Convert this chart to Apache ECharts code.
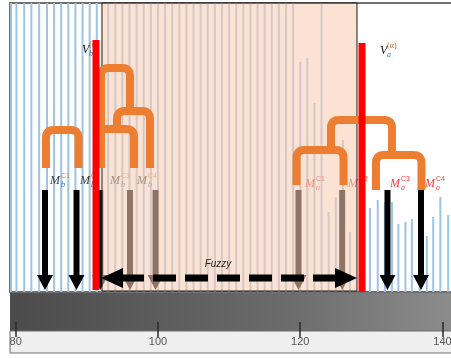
<!DOCTYPE html>
<html>
<head>
<meta charset="utf-8">
<script src="https://cdn.jsdelivr.net/npm/echarts@6/dist/echarts.min.js"></script>
<style>
html, body { margin: 0; padding: 0; background: #fff; }
#chart { width: 451px; height: 358px; }
</style>
</head>
<body>
<div id="chart"></div>
<script>
// m/z axis ticks
var tickValues = [80, 100, 120, 140];

// spectrum lines: position and height
var lineX = [79.35, 80.1, 81.2, 82.2, 83.3, 84.4, 85.4, 86.4, 87.4, 88.4, 89.4, 90.4, 91.4,
	93, 94, 95, 96, 97, 98, 99, 100, 101, 102, 103, 104, 105, 106, 107, 108, 109, 110,
	111, 112, 113, 114, 115, 116, 117, 118, 119, 120, 121, 122, 123, 124, 125, 126, 127,
	129.8, 130.9, 131.9, 132.9, 133.8, 134.8, 135.7, 136.8, 137.8, 138.7, 139.7, 140.8];
var lineH = [289, 289, 289, 289, 289, 289, 289, 289, 289, 289, 289, 289, 289,
	289, 289, 289, 289, 289, 289, 289, 289, 289, 289, 289, 289, 289, 289, 289, 289, 289, 289,
	289, 289, 289, 289, 289, 289, 289, 289, 289, 230, 234, 189, 289, 80, 95, 152, 60,
	84, 92, 90, 90, 68, 70, 73, 60, 56, 75, 95, 77];

// downward arrows (fragments)
var arrowX = [84.12, 88.55, 91.9, 96.07, 99.66, 119.76, 125.9, 132.27, 136.98];
var arrowTop = [102, 102, 102, 102, 102, 102, 102, 102, 102];
var arrowTip = [2, 2, 2, 2, 2, 2, 2, 2, 2];

// fragment labels
var labelX = [84.82, 89.04, 93.26, 97.05, 120.67, 126.72, 132.62, 137.54];
var labelY = [111, 111, 111, 111, 108, 108, 108, 108];
var labelSup = ['C1', 'C2', 'C3', 'C4', 'C1', 'C2', 'C3', 'C4'];
var labelSub = ['b', 'b', 'b', 'b', 'a', 'a', 'a', 'a'];

// precursor windows
var redX = [91.29, 128.69];
var redTop = [252, 249];
var redBottom = [2, 0];
var vX = [89.32, 131.22];
var vY = [242, 241];
var vSub = ['b', 'a'];

// fuzzy window
var fuzzyFrom = 92.13;
var fuzzyTo = 127.98;
var arrowFrom = 91.99;
var arrowY = 14;
var fuzzyTextX = 108.44;
var fuzzyTextY = 28;

// dendrogram links
var treeLinks = [
	[[84.26, 124], [84.26, 162], [88.83, 162], [88.83, 124]],
	[[91.99, 124], [91.99, 224], [96.07, 224], [96.07, 181]],
	[[94.24, 165], [94.24, 181], [98.88, 181], [98.88, 124]],
	[[91.99, 163], [96.63, 163], [96.63, 124]],
	[[119.48, 107], [119.48, 142], [126.09, 142], [126.09, 107]],
	[[124.33, 142], [124.33, 172], [132.9, 172], [132.9, 137]],
	[[130.65, 102], [130.65, 137], [137.05, 137], [137.05, 102]]
];

var xMin = 79.2, xMax = 141.48;

// rounded corners for the dendrogram elbows (pixel space)
function roundCorners(pts, r) {
	var out = [ pts[0] ];
	for (var i = 1; i < pts.length - 1; i++) {
		var p = pts[i], a = pts[i - 1], b = pts[i + 1];
		var d1 = Math.hypot(p[0] - a[0], p[1] - a[1]);
		var d2 = Math.hypot(b[0] - p[0], b[1] - p[1]);
		var rr = Math.min(r, d1 / 2, d2 / 2);
		var s = [ p[0] - (p[0] - a[0]) / d1 * rr, p[1] - (p[1] - a[1]) / d1 * rr ];
		var e = [ p[0] + (b[0] - p[0]) / d2 * rr, p[1] + (b[1] - p[1]) / d2 * rr ];
		for (var k = 0; k <= 8; k++) {
			var t = k / 8, u = 1 - t;
			out.push([ u * u * s[0] + 2 * u * t * p[0] + t * t * e[0],
				u * u * s[1] + 2 * u * t * p[1] + t * t * e[1] ]);
		}
	}
	out.push(pts[pts.length - 1]);
	return out;
}

var myChart = echarts.init(document.getElementById('chart'));

var option = {
	animation : false,
	backgroundColor : '#fff',
	grid : [ {
		left : 10, right : -2, top : 3, height : 289,
		show : true, backgroundColor : '#fff', borderColor : '#6f6f6f', borderWidth : 2,
		outerBoundsMode : 'none'
	}, {
		left : 10, right : -2, top : 293, height : 38,
		show : true, borderWidth : 0, outerBoundsMode : 'none',
		backgroundColor : new echarts.graphic.LinearGradient(0, 0, 1, 0, [
			{ offset : 0, color : '#4b4b4b' },
			{ offset : 0.6, color : '#6a6a6a' },
			{ offset : 1, color : '#8c8c8c' } ])
	}, {
		left : 10, right : -2, top : 331, height : 22,
		show : true, backgroundColor : '#efefef', borderColor : '#6f6f6f', borderWidth : 1,
		outerBoundsMode : 'none'
	} ],
	xAxis : [ {
		gridIndex : 0, type : 'value', min : xMin, max : xMax, show : false
	}, {
		gridIndex : 1, type : 'value', min : xMin, max : xMax, position : 'top',
		axisLine : { show : false },
		axisTick : { show : true, inside : true, length : 6, customValues : tickValues,
			lineStyle : { color : '#2a2a2a', width : 1.5 } },
		axisLabel : { show : false },
		splitLine : { show : false }
	}, {
		gridIndex : 1, type : 'value', min : xMin, max : xMax, position : 'bottom',
		axisLine : { show : false },
		axisTick : { show : true, inside : true, length : 9, customValues : tickValues,
			lineStyle : { color : '#2a2a2a', width : 1.5 } },
		axisLabel : { show : false },
		splitLine : { show : false }
	}, {
		gridIndex : 2, type : 'value', min : xMin, max : xMax, position : 'top',
		axisLine : { show : false },
		axisTick : { show : false },
		axisLabel : { show : true, inside : true, margin : 5, customValues : tickValues,
			color : '#555', fontSize : 11, fontFamily : 'Liberation Sans' },
		splitLine : { show : false }
	} ],
	yAxis : [ {
		gridIndex : 0, type : 'value', min : 0, max : 289, show : false
	}, {
		gridIndex : 1, type : 'value', min : 0, max : 1, show : false
	}, {
		gridIndex : 2, type : 'value', min : 0, max : 1, show : false
	} ],
	series : [ {
		// spectrum lines
		type : 'custom', z : 2,
		data : lineX.map(function(x, i) { return [ x, lineH[i] ]; }),
		renderItem : function(params, api) {
			var p0 = api.coord([ api.value(0), 0 ]);
			var p1 = api.coord([ api.value(0), api.value(1) ]);
			return {
				type : 'line',
				shape : { x1 : p0[0], y1 : p0[1], x2 : p1[0], y2 : p1[1] },
				style : { stroke : '#9dc3e6', lineWidth : 2 }
			};
		}
	}, {
		// fragment arrows
		type : 'custom', z : 3,
		data : arrowX.map(function(x, i) { return [ x, arrowTop[i], arrowTip[i] ]; }),
		renderItem : function(params, api) {
			var top = api.coord([ api.value(0), api.value(1) ]);
			var tip = api.coord([ api.value(0), api.value(2) ]);
			var hl = 15, hw = 8, sw = 3;
			return {
				type : 'group',
				children : [ {
					type : 'rect',
					shape : { x : top[0] - sw, y : top[1], width : sw * 2, height : tip[1] - hl - top[1] + 1 },
					style : { fill : '#000' }
				}, {
					type : 'polygon',
					shape : { points : [ [ tip[0] - hw, tip[1] - hl ], [ tip[0] + hw, tip[1] - hl ], [ tip[0], tip[1] ] ] },
					style : { fill : '#000' }
				} ]
			};
		}
	}, {
		// fragment labels
		type : 'custom', z : 4,
		data : labelX.map(function(x, i) { return [ x, labelY[i] ]; }),
		renderItem : function(params, api) {
			var i = params.dataIndex;
			var p = api.coord([ api.value(0), api.value(1) ]);
			var red = labelSub[i] === 'a';
			return {
				type : 'group',
				children : [ {
					type : 'text', x : p[0], y : p[1],
					style : { text : 'M', font : 'italic 12px "Liberation Serif"',
						fill : red ? '#ff3b3b' : '#404040', verticalAlign : 'middle' }
				}, {
					type : 'text', x : p[0] + 11, y : p[1] - 5,
					style : { text : labelSup[i], font : '7px "Liberation Sans"',
						fill : red ? '#ff3b3b' : '#d49a1e', verticalAlign : 'middle' }
				}, {
					type : 'text', x : p[0] + 11, y : p[1] + 4,
					style : { text : labelSub[i], font : 'italic 8px "Liberation Serif"',
						fill : red ? '#ff3b3b' : '#2e75b6', verticalAlign : 'middle' }
				} ]
			};
		}
	}, {
		// fuzzy window shade
		type : 'custom', z : 5,
		data : [ [ fuzzyFrom, fuzzyTo ] ],
		renderItem : function(params, api) {
			var a = api.coord([ api.value(0), 289 ]);
			var b = api.coord([ api.value(1), 0 ]);
			return {
				type : 'rect',
				shape : { x : a[0], y : a[1], width : b[0] - a[0], height : b[1] - a[1] - 1 },
				style : { fill : 'rgba(249,204,178,0.57)', stroke : '#1a1a1a', lineWidth : 1 }
			};
		}
	}, {
		// dendrogram
		type : 'custom', z : 6,
		data : treeLinks.map(function(l, i) { return [ l[0][0], l[0][1] ]; }),
		renderItem : function(params, api) {
			var pts = treeLinks[params.dataIndex].map(function(p) { return api.coord(p); });
			return {
				type : 'polyline',
				shape : { points : roundCorners(pts, 8) },
				style : { stroke : '#ed7d31', lineWidth : 8, lineJoin : 'round', fill : null }
			};
		}
	}, {
		// precursor window edges
		type : 'custom', z : 7,
		data : redX.map(function(x, i) { return [ x, redTop[i], redBottom[i] ]; }),
		renderItem : function(params, api) {
			var a = api.coord([ api.value(0), api.value(1) ]);
			var b = api.coord([ api.value(0), api.value(2) ]);
			return {
				type : 'rect',
				shape : { x : a[0] - 3.5, y : a[1], width : 7, height : b[1] - a[1] },
				style : { fill : '#ff0000' }
			};
		}
	}, {
		// precursor labels
		type : 'custom', z : 6,
		data : vX.map(function(x, i) { return [ x, vY[i] ]; }),
		renderItem : function(params, api) {
			var i = params.dataIndex;
			var p = api.coord([ api.value(0), api.value(1) ]);
			return {
				type : 'group',
				children : [ {
					type : 'text', x : p[0], y : p[1],
					style : { text : 'V', font : 'italic 12px "Liberation Serif"', fill : '#111', verticalAlign : 'middle' }
				}, {
					type : 'text', x : p[0] + 7, y : p[1] - 5,
					style : { text : '(α)', font : '8px "Liberation Serif"', fill : '#b8652a', verticalAlign : 'middle' }
				}, {
					type : 'text', x : p[0] + 7, y : p[1] + 4,
					style : { text : vSub[i], font : 'italic 8px "Liberation Serif"', fill : '#2e75b6', verticalAlign : 'middle' }
				} ]
			};
		}
	}, {
		// fuzzy double arrow
		type : 'custom', z : 8,
		data : [ [ arrowFrom, fuzzyTo, arrowY ] ],
		renderItem : function(params, api) {
			var a = api.coord([ api.value(0), api.value(2) ]);
			var b = api.coord([ api.value(1), api.value(2) ]);
			var t = api.coord([ fuzzyTextX, fuzzyTextY ]);
			var hl = 22, hw = 10;
			return {
				type : 'group',
				children : [ {
					type : 'line',
					shape : { x1 : a[0] + hl - 2, y1 : a[1], x2 : b[0] - hl + 2, y2 : b[1] },
					style : { stroke : '#000', lineWidth : 7, lineDash : [ 23, 9 ] }
				}, {
					type : 'polygon',
					shape : { points : [ [ a[0], a[1] ], [ a[0] + hl, a[1] - hw ], [ a[0] + hl, a[1] + hw ] ] },
					style : { fill : '#000' }
				}, {
					type : 'polygon',
					shape : { points : [ [ b[0], b[1] ], [ b[0] - hl, b[1] - hw ], [ b[0] - hl, b[1] + hw ] ] },
					style : { fill : '#000' }
				}, {
					type : 'text', x : t[0], y : t[1],
					style : { text : 'Fuzzy', font : 'italic 10px "Liberation Sans"', fill : '#222',
						align : 'center', verticalAlign : 'middle' }
				} ]
			};
		}
	} ]
};

myChart.setOption(option);
</script>
</body>
</html>
